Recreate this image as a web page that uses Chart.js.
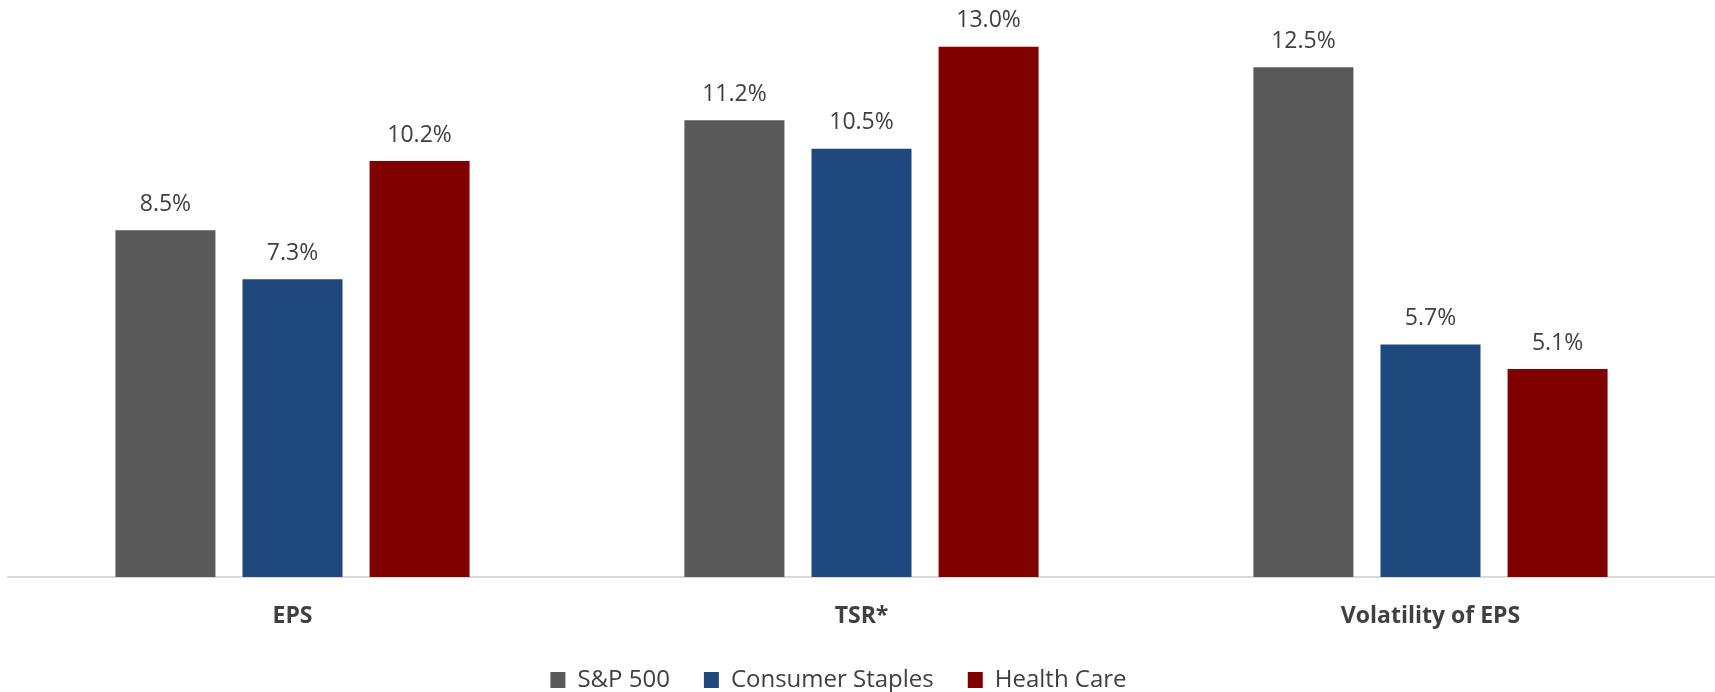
<!DOCTYPE html>
<html>
<head>
<meta charset="utf-8">
<script src="https://cdn.jsdelivr.net/npm/chart.js@4"></script>
<style>
  html, body { margin: 0; padding: 0; background: #fff; overflow: hidden; }
  #wrap { width: 1715px; height: 702px; position: relative; }
</style>
</head>
<body>
<div id="wrap"><canvas id="grafica"></canvas></div>
<script>
	var categorias = ["EPS", "TSR*", "Volatility of EPS"];
	var sp500 = [8.5, 11.2, 12.5];
	var staples = [7.3, 10.5, 5.7];
	var salud = [10.2, 13.0, 5.1];
	var series = ["S&P 500", "Consumer Staples", "Health Care"];
	var colores = ["#595959", "#1F497D", "#800000"];

	var fuente = "'Open Sans', sans-serif";

	// etiquetas de valor encima de cada barra
	var etiquetas = {
		id: "etiquetas",
		afterDatasetsDraw: function(chart){
			var ctx = chart.ctx;
			ctx.save();
			ctx.font = "23px " + fuente;
			ctx.fillStyle = "#404040";
			ctx.textAlign = "center";
			ctx.textBaseline = "middle";
			chart.data.datasets.forEach(function(ds, i){
				chart.getDatasetMeta(i).data.forEach(function(bar, j){
					ctx.fillText(ds.data[j].toFixed(1) + "%", bar.x, bar.y - 26);
				});
			});
			ctx.restore();
		}
	};

	// la leyenda va un poco a la izquierda del centro
	var moverLeyenda = {
		id: "moverLeyenda",
		afterLayout: function(chart){
			var l = chart.legend;
			l.left = -19;
			l.right = chart.width - 19;
		}
	};

	new Chart(document.getElementById("grafica"), {
		type: "bar",
		data: {
			labels: categorias,
			datasets: [
				{ label: series[0], data: sp500, backgroundColor: colores[0] },
				{ label: series[1], data: staples, backgroundColor: colores[1] },
				{ label: series[2], data: salud, backgroundColor: colores[2] }
			]
		},
		options: {
			responsive: true,
			maintainAspectRatio: false,
			animation: false,
			categoryPercentage: 0.67,
			barPercentage: 0.787,
			layout: { padding: { left: 8, right: 0, top: 6, bottom: 0 } },
			plugins: {
				tooltip: { enabled: false },
				legend: {
					position: "bottom",
					labels: {
						font: { family: fuente, size: 24 },
						color: "#404040",
						boxWidth: 15,
						boxHeight: 16,
						padding: 34
					}
				}
			},
			scales: {
				x: {
					grid: { display: false },
					border: { display: true, color: "#D9D9D9", width: 2 },
					ticks: {
						font: { family: fuente, size: 23, weight: "bold" },
						color: "#404040",
						padding: 18
					},
					afterFit: function(scale){ scale.height = 57; }
				},
				y: {
					display: false,
					min: 0,
					max: 14
				}
			}
		},
		plugins: [etiquetas, moverLeyenda]
	});
</script>
</body>
</html>
